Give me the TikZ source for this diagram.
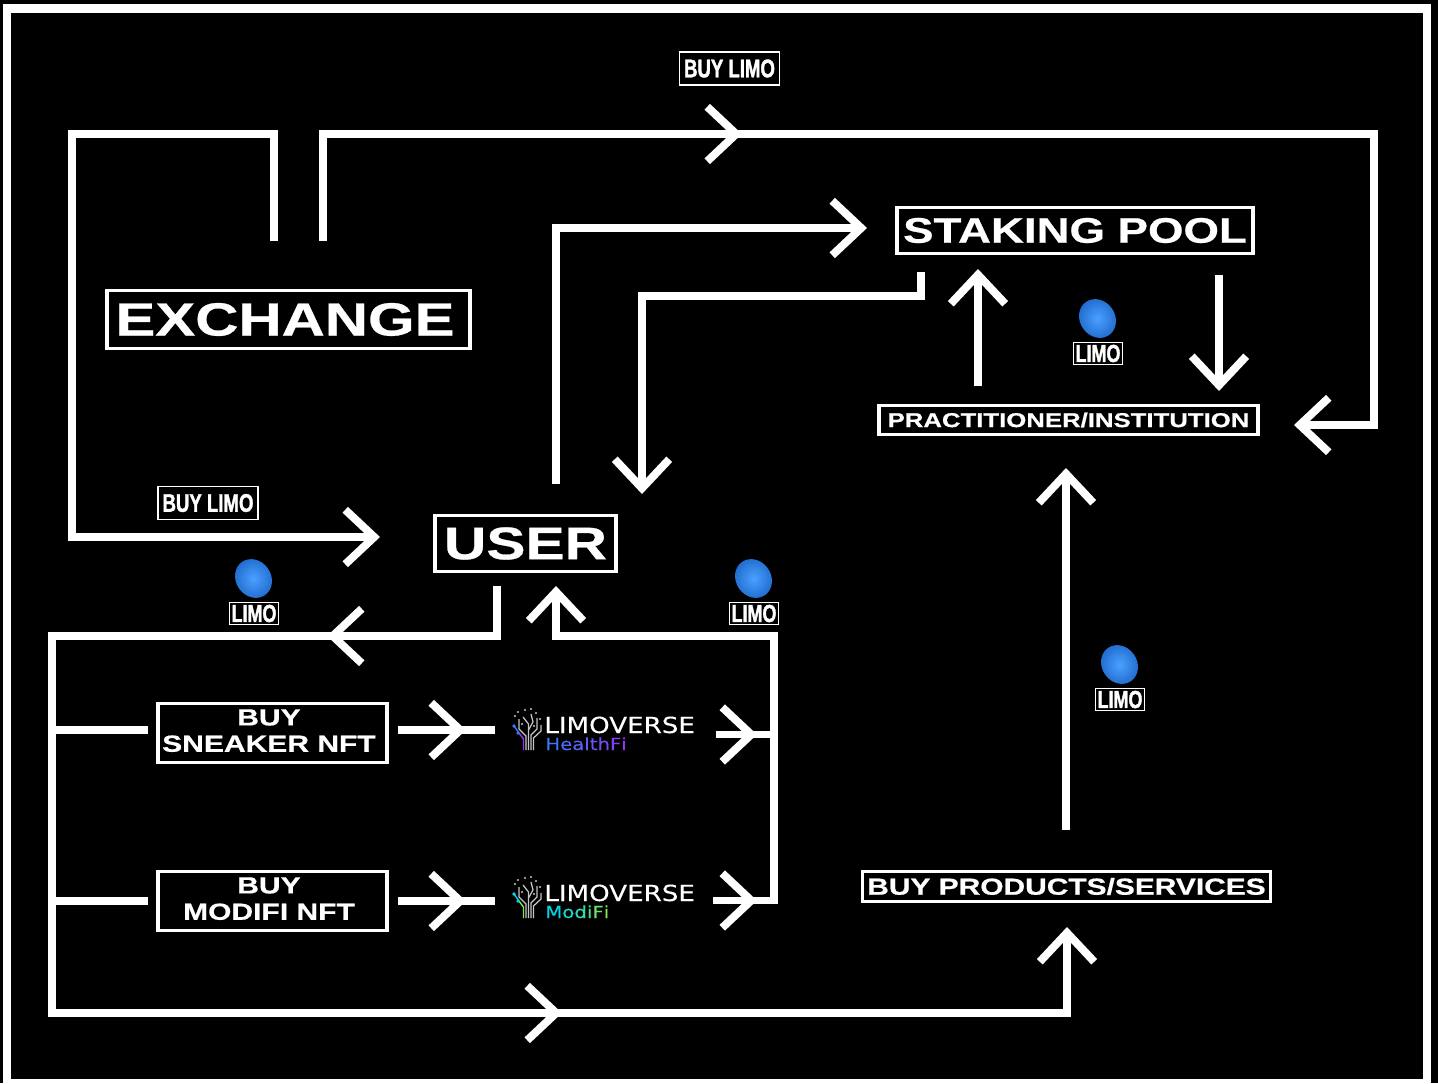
\documentclass[tikz,border=0pt]{standalone}
\usepackage{fontspec}
\usetikzlibrary{arrows.meta,shapes.geometric}
\newfontfamily\widefont[FakeStretch=1.285,FakeBold=0.6]{Liberation Sans Bold}
\newfontfamily\narrowfont[FakeStretch=0.73,FakeBold=1.5]{Liberation Sans Bold}
\newfontfamily\logofont[FakeStretch=1.18,FakeBold=0.25]{DejaVu Sans}
\definecolor{coinblue}{RGB}{35,125,240}
\definecolor{coinlight}{RGB}{75,160,255}
\definecolor{hfblue}{RGB}{60,120,250}
\definecolor{hfviolet}{RGB}{150,50,240}
\definecolor{mfcyan}{RGB}{0,215,230}
\definecolor{mfgreen}{RGB}{130,230,80}
\tikzset{
	flow/.style={white, line width=4.5pt, line join=miter, line cap=butt},
	tip/.style={-{Straight Barb[length=16.5pt, width=31pt]}},
	box/.style={draw=white, line width=1.8pt, fill=black, text=white, inner sep=0pt, align=center},
	tag/.style={box, line width=1pt, minimum height=33*0.02cm},
	coin/.style={ellipse, minimum width=20pt, minimum height=23pt, rotate=35, inner sep=0pt, inner color=coinlight, outer color=coinblue!85!black},
	logotext/.style={anchor=base west, inner sep=0pt},
}
\begin{document}
\begin{tikzpicture}[x=0.02cm, y=-0.02cm]
	\useasboundingbox (0,0) rectangle (1438,1083);
	\fill[black] (0,0) rectangle (1438,1083);
	\draw[white, line width=5pt] (7,8.5) rectangle (1427,1083);

	% Boxes
	\node[box, minimum width=363*0.02cm, minimum height=58*0.02cm, font=\widefont\fontsize{26.5}{26.5}\selectfont] (exchange) at (288.5,319.5) {EXCHANGE\hspace*{4pt}};
	\node[box, minimum width=356*0.02cm, minimum height=46*0.02cm, font=\widefont\fontsize{20.2}{20.2}\selectfont] (staking) at (1075,230.5) {STAKING POOL};
	\node[box, minimum width=379*0.02cm, minimum height=29*0.02cm, font=\widefont\fontsize{11.4}{11.4}\selectfont] (practitioner) at (1068.5,420) {PRACTITIONER/INSTITUTION};
	\node[box, minimum width=181*0.02cm, minimum height=56*0.02cm, font=\widefont\fontsize{26}{26}\selectfont] (user) at (525.5,543.5) {USER};
	\node[box, minimum width=229*0.02cm, minimum height=59*0.02cm, text depth=2.8pt, font=\widefont\fontsize{13.3}{15}\selectfont] (sneaker) at (272.5,733) {BUY\hspace*{4pt}\\SNEAKER NFT\hspace*{4pt}};
	\node[box, minimum width=229*0.02cm, minimum height=59*0.02cm, text depth=2.8pt, font=\widefont\fontsize{13.3}{15}\selectfont] (modifi) at (272.5,901) {BUY\hspace*{4pt}\\MODIFI NFT\hspace*{4pt}};
	\node[box, minimum width=408*0.02cm, minimum height=30*0.02cm, font=\widefont\fontsize{13.25}{13.25}\selectfont] (products) at (1066.5,886.5) {BUY PRODUCTS/SERVICES};

	% Buy and token tags
	\node[tag, minimum width=100*0.02cm, font=\narrowfont\fontsize{14.5}{14.5}\selectfont] (buytop) at (729.5,68.5) {BUY LIMO};
	\node[tag, minimum width=100*0.02cm, font=\narrowfont\fontsize{14.5}{14.5}\selectfont] (buyleft) at (208,503) {BUY LIMO};
	\foreach \name/\x/\y in {pool/1098/353.5, left/254/613.5, right/754/613.5, service/1120/699.5}{
		\node[tag, minimum width=49*0.02cm, minimum height=22*0.02cm, font=\narrowfont\fontsize{14}{14}\selectfont] (limo\name) at (\x,\y) {LIMO};
		\node[coin] (coin\name) at (\x-0.5,\y-35) {};
	}

	% Free ends of the connectors
	\coordinate (exout) at (274,241);
	\coordinate (exup) at (323,241);
	\coordinate (cornera) at (72,134);
	\coordinate (cornerb) at (1374,134);
	\coordinate (userin) at (380,537);
	\coordinate (pracin) at (1294,425);
	\coordinate (userup) at (556,484);
	\coordinate (stakein) at (867,228);
	\coordinate (stakeout) at (921,272);
	\coordinate (stakebend) at (642,296);
	\coordinate (usertop) at (642,494);
	\coordinate (pracup) at (978,386);
	\coordinate (stakeb) at (978,269);
	\coordinate (staked) at (1219,275);
	\coordinate (pracb) at (1219,391);
	\coordinate (userout) at (497,586);
	\coordinate (spine) at (52,636);
	\coordinate (prodin) at (1067,927);
	\coordinate (userb) at (556,586);
	\coordinate (prodout) at (1066,830);
	\coordinate (pracd) at (1066,468);
	\coordinate (loopa) at (774,636);
	\coordinate (loopb) at (774,904);
	\coordinate (cornerc) at (1067,1013);

	% Connectors
	\draw[flow, tip] (exout) |- (cornera) -- (cornera |- userin) -- (userin);
	\draw[flow, tip] (exup) |- (cornerb) |- (pracin);
	\draw[flow, tip] (userup) |- (stakein);
	\draw[flow, tip] (stakeout) |- (stakebend) -- (usertop);
	\draw[flow, tip] (pracup) -- (stakeb);
	\draw[flow, tip] (staked) -- (pracb);
	\draw[flow, tip] (userout) |- (spine) |- (cornerc) -- (prodin);
	\draw[flow, tip] (loopb) -- (loopa) -| (userb);
	\draw[flow, tip] (prodout) -- (pracd);

	% Chevrons along the lines
	\draw[flow, tip] (700,134) -- (742,134);
	\draw[flow, tip] (370,636) -- (327,636);
	\draw[flow, tip] (520,1013) -- (562,1013);

	% Branches around the two products
	\foreach \name/\y in {sneaker/730, modifi/901}{
		\coordinate (\name l) at (52,\y);
		\coordinate (\name a) at (148,\y);
		\coordinate (\name b) at (398,\y);
		\coordinate (\name c) at (466,\y);
		\coordinate (\name d) at (495,\y);
		\draw[flow] (\name l) -- (\name a);
		\draw[flow] (\name b) -- (\name d);
		\draw[flow, tip] (\name b) -- (\name c);
	}
	\coordinate (hfout) at (716,734.5);
	\coordinate (hfmid) at (757,734.5);
	\coordinate (hfin) at (774,734.5);
	\coordinate (mfout) at (713,900.5);
	\coordinate (mfmid) at (757,900.5);
	\coordinate (mfin) at (774,900.5);
	\draw[flow] (hfout) -- (hfin);
	\draw[flow] (mfout) -- (mfin);
	\draw[flow, tip] (hfout) -- (hfmid);
	\draw[flow, tip] (mfout) -- (mfmid);

	% Logos
	\foreach \name/\y/\accent/\trunk in {health/0/hfblue/hfviolet, modi/168/mfcyan/mfgreen}{
		\begin{scope}[yshift=-\y*0.02cm]
			\draw[gray!45, line width=0.7pt] (526,750) -- (526,736) -- (519,729) -- (519,719);
			\draw[gray!45, line width=0.7pt] (528.5,750) -- (528.5,724) -- (523,717);
			\draw[gray!45, line width=0.7pt] (531,750) -- (531,735) -- (537,729) -- (537,718);
			\draw[gray!45, line width=0.7pt] (533.5,750) -- (533.5,738) -- (541,731) -- (541,725);
			\draw[gray!45, line width=0.7pt] (528.5,730) -- (533,722) -- (531,714);
			\foreach \dx/\dy in {515/716, 518/712, 525/710, 531/709, 536/713, 540/719, 522/724, 534/726}{
				\fill[gray!45] (\dx,\dy) circle (0.7pt);
			}
			\draw[\trunk, line width=0.8pt] (523.5,750) -- (523.5,739) -- (519,733);
			\draw[\accent, line width=0.8pt] (519,733) -- (514,726);
			\fill[\accent] (514,726) circle (1.1pt);
			\fill[\accent] (518,733) circle (1pt);
		\end{scope}
	}
	\node[logotext, white, font=\logofont\fontsize{12.6}{12.6}\selectfont] (limoverseh) at (544,733) {LIMOVERSE};
	\node[logotext, white, font=\logofont\fontsize{12.6}{12.6}\selectfont] (limoversem) at (544,901) {LIMOVERSE};
	\node[logotext, font=\logofont\fontsize{9.5}{9.5}\selectfont] (healthfi) at (545,750) {\textcolor{hfblue}{H}\textcolor{hfblue!85!hfviolet}{e}\textcolor{hfblue!70!hfviolet}{a}\textcolor{hfblue!60!hfviolet}{l}\textcolor{hfblue!50!hfviolet}{t}\textcolor{hfblue!35!hfviolet}{h}\textcolor{hfblue!20!hfviolet}{F}\textcolor{hfviolet}{i}};
	\node[logotext, font=\logofont\fontsize{9.5}{9.5}\selectfont] (modifilogo) at (545,918) {\textcolor{mfcyan}{M}\textcolor{mfcyan!80!mfgreen}{o}\textcolor{mfcyan!60!mfgreen}{d}\textcolor{mfcyan!40!mfgreen}{i}\textcolor{mfcyan!20!mfgreen}{F}\textcolor{mfgreen}{i}};
\end{tikzpicture}
\end{document}
